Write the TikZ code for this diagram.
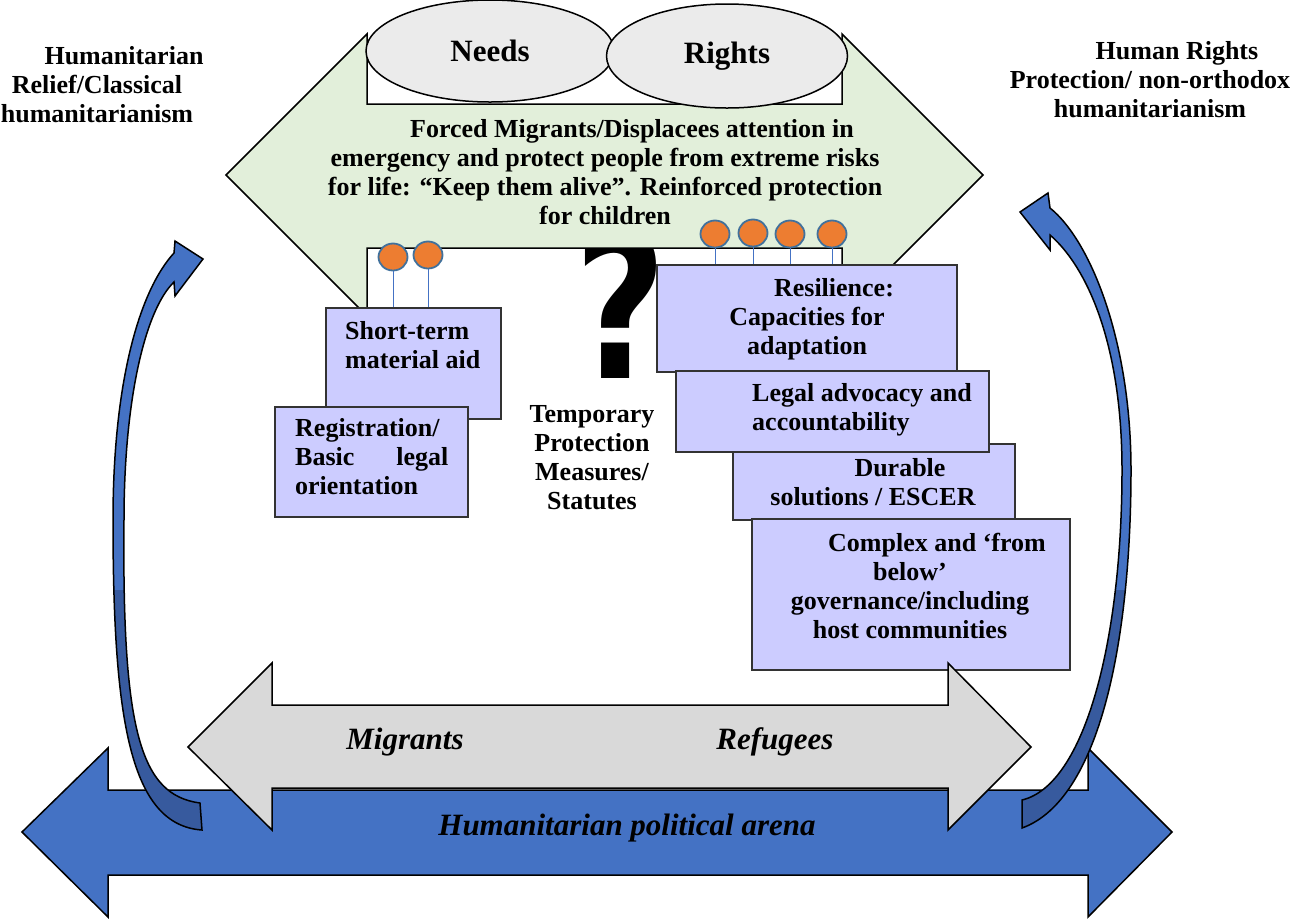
\documentclass[tikz,border=0pt]{standalone}
\usepackage{fontspec}
\setmainfont{Liberation Serif}
\newfontfamily\qmarkfont{DejaVu Sans}
\usepackage{graphicx}
\usetikzlibrary{positioning, shapes.geometric}

\definecolor{greenfill}{HTML}{E2EFDA}
\definecolor{boxfill}{HTML}{CCCCFF}
\definecolor{arenablue}{HTML}{4472C4}
\definecolor{shadeblue}{HTML}{375A9E}
\definecolor{dotorange}{HTML}{ED7D31}
\definecolor{dotrim}{HTML}{41719C}
\definecolor{ovalgray}{HTML}{EBEBEB}
\definecolor{bandgray}{HTML}{D9D9D9}

\newcommand{\firstind}{\hspace*{54pt}}

\begin{document}
\begin{tikzpicture}[x=1pt, y=-1pt,
        arrow_shape/.style={draw=black, line width=1.5pt, line join=miter},
        oval_node/.style={ellipse, draw=black, line width=1.5pt, fill=ovalgray, inner sep=0pt, font=\fontsize{31}{31}\selectfont\bfseries},
        box_node/.style={rectangle, draw=black!80, fill=boxfill, line width=1.3pt, inner sep=0pt},
        label_node/.style={inner sep=0pt, align=center, font=\fontsize{26}{29}\selectfont\bfseries},
        arena_label/.style={inner sep=0pt, font=\fontsize{31}{31}\selectfont\bfseries\itshape},
        dot_node/.style={ellipse, draw=dotrim, fill=dotorange, line width=1.8pt, minimum width=29pt, minimum height=27pt, inner sep=0pt},
        stem_line/.style={draw=arenablue, line width=0.9pt}
        ]
    \useasboundingbox (0,0) rectangle (1292,922);

    % political arena arrow
    \filldraw[arrow_shape, fill=arenablue] (22,832) -- (108,748) -- (108,790) -- (1088,790) -- (1088,748) -- (1172,832)
        -- (1088,917) -- (1088,875) -- (108,875) -- (108,917) -- cycle;
    \node[arena_label] (txt_arena) at (627,828) {Humanitarian political arena};

    % question mark (behind the green arrow)
    \node[inner sep=0pt, anchor=base, font=\fontsize{204}{204}\qmarkfont\bfseries] (qmark) at (621,378) {\scalebox{0.78}[1]{?}};

    % needs/rights arrow
    \filldraw[arrow_shape, fill=greenfill] (226,175) -- (367,34) -- (367,104) -- (842,104) -- (842,34) -- (983,175)
        -- (842,316) -- (842,248) -- (367,248) -- (367,316) -- cycle;
    \node[label_node] (txt_forced) at (605,172) {\firstind Forced Migrants/Displacees attention in\\
        emergency and protect people from extreme risks\\
        for life: “Keep them alive”. Reinforced protection\\
        for children};
    \node[oval_node, minimum width=248pt, minimum height=102pt] (needs)  at (490,51) {Needs};
    \node[oval_node, minimum width=241pt, minimum height=104pt] (rights) at (727,56) {Rights};

    % boxes
    \node[box_node, minimum width=175pt, minimum height=111pt] (box_aid) at (413.5,363.5) {};
    \node[label_node, align=left, anchor=west] (txt_aid) at (345,345) {Short-term\\ material aid};
    \node[box_node, minimum width=193pt, minimum height=110pt] (box_reg) at (371.5,462) {};
    \node[label_node, align=left, anchor=west] (txt_reg) at (295,457)
        {Registration/\\ Basic\hspace{42pt}legal\\ orientation};
    \node[box_node, minimum width=300pt, minimum height=107pt] (box_res) at (807,318.5) {};
    \node[label_node] (txt_res) at (807,319) {\firstind Resilience:\\ Capacities for\\ adaptation};
    \node[box_node, minimum width=282pt, minimum height=76pt] (box_dur) at (874,482) {};
    \node[label_node] (txt_dur) at (873,482) {\firstind Durable\\ solutions / ESCER};
    \node[box_node, minimum width=313pt, minimum height=81pt] (box_legal) at (832.5,411.5) {};
    \node[label_node, align=left, anchor=west] (txt_legal) at (752,410) {Legal advocacy and\\ accountability};
    \node[box_node, minimum width=318pt, minimum height=151pt] (box_cpx) at (911,594.5) {};
    \node[label_node] (txt_cpx) at (910,586) {\firstind Complex and ‘from\\ below’\\ governance/including\\ host communities};

    \node[label_node] (txt_temp) at (592,458) {Temporary\\ Protection\\ Measures/\\ Statutes};

    % dots
    \node[dot_node] (dot_1) at (393,257) {};
    \node[dot_node] (dot_2) at (428,255) {};
    \node[dot_node] (dot_3) at (715,234) {};
    \node[dot_node] (dot_4) at (753,233) {};
    \node[dot_node] (dot_5) at (790,234) {};
    \node[dot_node] (dot_6) at (832,234) {};
    \foreach \d in {1,2} \draw[stem_line] (dot_\d.south) -- (dot_\d.south |- box_aid.north);
    \foreach \d in {3,...,6} \draw[stem_line] (dot_\d.south) -- (dot_\d.south |- box_res.north);

    % migrants/refugees arrow
    \filldraw[arrow_shape, fill=bandgray] (188,747) -- (272,663) -- (272,705) -- (948,705) -- (948,663) -- (1031,747)
        -- (948,830) -- (948,788) -- (272,788) -- (272,830) -- cycle;
    \node[arena_label] (txt_migrants) at (405,742) {Migrants};
    \node[arena_label] (txt_refugees) at (775,742) {Refugees};

    % curved arrows
    \path[save path=\leftcurve] (202,830) .. controls (130,825) and (113,720) .. (113,520)
        .. controls (113,380) and (140,290) .. (174,253) -- (175,241) -- (203,259) -- (175,296) -- (174,282)
        .. controls (145,310) and (124,400) .. (124,520) .. controls (122,730) and (140,795) .. (200,803) -- cycle;
    \path[save path=\rightcurve] (1022,828) .. controls (1100,800) and (1131,640) .. (1131,470)
        .. controls (1131,340) and (1090,240) .. (1050,208) -- (1048,193) -- (1020,212) -- (1050,250) -- (1050,235)
        .. controls (1085,265) and (1122,340) .. (1122,470) .. controls (1122,640) and (1085,785) .. (1022,800) -- cycle;
    \path[use path=\leftcurve, fill=arenablue];
    \path[use path=\rightcurve, fill=arenablue];
    \begin{scope}
        \clip (0,590) rectangle (1292,922);
        \path[use path=\leftcurve, fill=shadeblue];
        \path[use path=\rightcurve, fill=shadeblue];
    \end{scope}
    \path[use path=\leftcurve, draw=black, line width=1.5pt];
    \path[use path=\rightcurve, draw=black, line width=1.5pt];

    % side labels
    \node[label_node] (txt_left)  at (97,85)   {\firstind Humanitarian\\ Relief/Classical\\ humanitarianism};
    \node[label_node] (txt_right) at (1150,80) {\firstind Human Rights\\ Protection/ non-orthodox\\ humanitarianism};
\end{tikzpicture}
\end{document}
